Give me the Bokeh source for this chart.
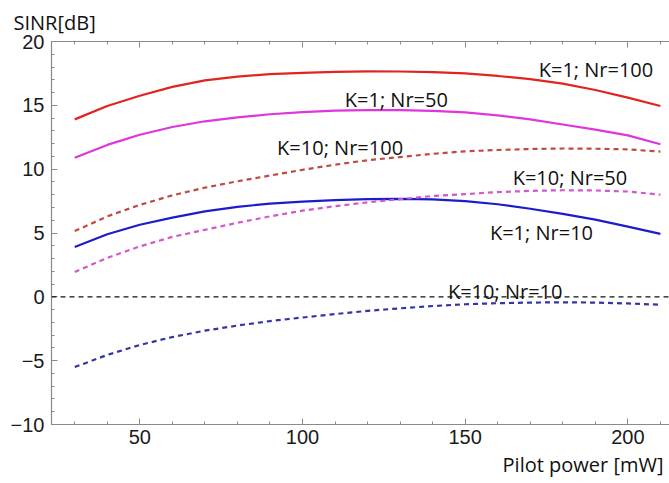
from bokeh.plotting import figure
from bokeh.models import (Range1d, SingleIntervalTicker, FixedTicker, LinearAxis,
                          Span, Title, ColumnDataSource)
from bokeh.core.properties import value
from bokeh.embed import file_html
from bokeh.resources import INLINE

# ---------------- data ----------------
pilot_power = [30, 40, 50, 60, 70, 80, 90, 100, 110, 120, 130, 140, 150, 160, 170, 180, 190, 200, 210]

k1_nr100 = [13.9, 14.95, 15.75, 16.45, 16.95, 17.25, 17.45, 17.55, 17.62, 17.66,
            17.65, 17.6, 17.5, 17.3, 17.05, 16.7, 16.2, 15.6, 14.95]
k1_nr50 = [10.9, 11.9, 12.7, 13.3, 13.75, 14.05, 14.3, 14.47, 14.58, 14.63,
           14.62, 14.57, 14.45, 14.22, 13.9, 13.5, 13.1, 12.65, 11.95]
k10_nr100 = [5.15, 6.3, 7.2, 7.95, 8.55, 9.05, 9.5, 9.95, 10.35, 10.7,
             10.95, 11.2, 11.4, 11.5, 11.58, 11.62, 11.6, 11.55, 11.38]
k1_nr10 = [3.9, 4.9, 5.65, 6.2, 6.7, 7.05, 7.3, 7.45, 7.57, 7.65,
           7.68, 7.63, 7.5, 7.25, 6.9, 6.5, 6.05, 5.5, 4.93]
k10_nr50 = [1.95, 3.05, 3.95, 4.7, 5.25, 5.8, 6.3, 6.75, 7.1, 7.4,
            7.65, 7.9, 8.05, 8.2, 8.3, 8.35, 8.33, 8.25, 8.0]
k10_nr10 = [-5.5, -4.55, -3.77, -3.15, -2.65, -2.25, -1.9, -1.62, -1.35, -1.1,
            -0.9, -0.72, -0.58, -0.5, -0.45, -0.43, -0.45, -0.52, -0.62]

curve_names = ["K=1; Nr=100", "K=1; Nr=50", "K=10; Nr=100", "K=1; Nr=10", "K=10; Nr=50", "K=10; Nr=10"]
label_x = [172.6, 113.0, 92.2, 157.6, 164.6, 144.7]
label_y = [17.79, 15.45, 11.68, 5.06, 9.35, 0.44]

x_ticks = [50, 100, 150, 200]
x_tick_labels = ["50", "100", "150", "200"]
y_ticks = [-10, -5, 0, 5, 10, 15, 20]
y_tick_labels = ["\u221210", "\u22125", "0", "5", "10", "15", "20"]

x_title = "Pilot power [mW]"
y_title = "SINR[dB]"

# ---------------- figure ----------------
W, H = 669, 483
p = figure(width=W, height=H, output_backend="svg", toolbar_location=None,
           x_range=Range1d(22.86, 212.8), y_range=Range1d(-10, 20),
           x_axis_type=None, y_axis_type=None,
           min_border_left=51, min_border_right=0, min_border_top=38, min_border_bottom=59)
p.outline_line_color = None
p.background_fill_color = "white"
p.border_fill_color = "white"

text_font = value("Open Sans")

def make_axis(ticker, show_labels, overrides=None):
    ax = LinearAxis(ticker=ticker)
    ax.axis_line_color = "#8a8a8a"
    ax.axis_line_width = 1.2
    ax.major_tick_line_color = "#8a8a8a"
    ax.minor_tick_line_color = "#8a8a8a"
    ax.major_tick_in = 6
    ax.major_tick_out = 0
    ax.minor_tick_in = 3
    ax.minor_tick_out = 0
    if show_labels:
        ax.major_label_text_font = "Liberation Sans"
        ax.major_label_text_font_size = "20px"
        ax.major_label_text_color = "#1a1a1a"
        if overrides:
            ax.major_label_overrides = overrides
    else:
        ax.major_label_text_font_size = "0px"
        ax.major_label_text_alpha = 0
        ax.major_label_standoff = 0
    return ax

xticker = SingleIntervalTicker(interval=50, num_minor_ticks=5)
yticker = SingleIntervalTicker(interval=5, num_minor_ticks=5)

xb = make_axis(xticker, True, {t: l for t, l in zip(x_ticks, x_tick_labels)})
xb.major_label_standoff = 5
p.add_layout(xb, "below")
xa = make_axis(SingleIntervalTicker(interval=50, num_minor_ticks=5), False)
p.add_layout(xa, "above")
yl = make_axis(yticker, True, {t: l for t, l in zip(y_ticks, y_tick_labels)})
yl.major_label_standoff = 7
p.add_layout(yl, "left")

# axis titles as titles (y title top-left, x title bottom-right)
p.title = Title(text=y_title, align="left", offset=-38, standoff=12,
                text_font="Open Sans", text_font_size="20px", text_font_style="normal",
                text_color="#111111")
p.add_layout(Title(text=x_title, align="right", offset=6, standoff=5,
                   text_font="Open Sans", text_font_size="20px", text_font_style="normal",
                   text_color="#111111"), "below")

# grid
p.xgrid.ticker = FixedTicker(ticks=x_ticks)
p.ygrid.ticker = FixedTicker(ticks=[t for t in y_ticks if t not in (-10, 0, 20)])
for g in (p.xgrid, p.ygrid):
    g.grid_line_color = "#8c8c8c"
    g.grid_line_dash = "5 4"
    g.grid_line_width = 1
p.add_layout(Span(location=0, dimension="width", line_color="#111111",
                  line_dash="5 4", line_width=1.2))

# curves
series = [
    (k1_nr100, "#e0241f", "solid"),
    (k1_nr50, "#de35dc", "solid"),
    (k10_nr100, "#c04a40", "5 4"),
    (k1_nr10, "#1c1ccc", "solid"),
    (k10_nr50, "#d058cc", "5 4"),
    (k10_nr10, "#3434a8", "5 4"),
]
for ys, col, dash in series:
    p.line(pilot_power, ys, line_color=col, line_width=2.2, line_dash=dash)

# curve labels
src = ColumnDataSource(dict(x=label_x, y=label_y, t=curve_names))
p.text(x="x", y="y", text="t", source=src, text_font=text_font,
       text_font_size="20px", text_color="#111111",
       text_align="left", text_baseline="middle")

open("out.html", "w").write(file_html(p, INLINE))
